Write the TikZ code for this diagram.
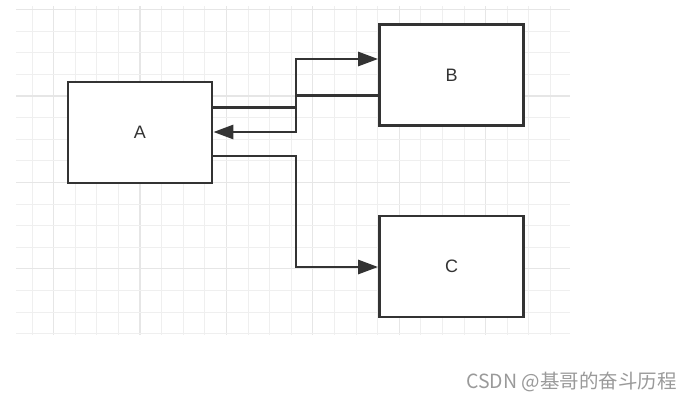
\documentclass[tikz,border=0pt]{standalone}
\usepackage{fontspec}
\setmainfont{Liberation Sans}
\newfontfamily\cjkfont{Noto Sans CJK SC}
\usetikzlibrary{arrows.meta,calc}
\definecolor{gridminor}{HTML}{EFEFEF}
\definecolor{gridmajor}{HTML}{E6E6E6}
\definecolor{ink}{HTML}{333333}
\definecolor{wm}{HTML}{9A9A9A}
\tikzset{
  minorline/.style={draw=gridminor,line width=0.9pt},
  majorline/.style={draw=gridmajor,line width=1.1pt},
  box/.style={draw=ink,line width=2.8pt,fill=white,rectangle,inner sep=0pt,
    minimum width=144pt,minimum height=101pt,text=ink,font=\fontsize{18}{18}\selectfont},
  conn/.style={draw=ink,line width=2.8pt,line join=miter},
  arr/.style={conn,-{Triangle[length=20pt 0,width=14pt 0]}}
}
\begin{document}
\begin{tikzpicture}[x=1pt,y=-1pt]
\useasboundingbox[fill=white] (0,0) rectangle (693,400);
% grid
\foreach \k in {-5,...,19}{
  \pgfmathtruncatemacro{\m}{mod(\k+20,4)}
  \ifnum\m=0
    \draw[majorline] ({140+21.6*\k},6) -- ({140+21.6*\k},335);
  \else
    \draw[minorline] ({140+21.6*\k},6) -- ({140+21.6*\k},335);
  \fi
}
\foreach \j in {0,...,15}{
  \pgfmathtruncatemacro{\m}{mod(\j,4)}
  \ifnum\m=0
    \draw[majorline] (16,{9.6+21.6*\j}) -- (570,{9.6+21.6*\j});
  \else
    \draw[minorline] (16,{9.6+21.6*\j}) -- (570,{9.6+21.6*\j});
  \fi
}
% boxes
\node[box] (A) at (140,132.5) {A};
\node[box] (B) at (451.5,75) {B};
\node[box] (C) at (451.5,266.5) {C};
% connectors
\coordinate (j) at (296,0);
\draw[arr] (A.east |- 0,107.5) -- (j |- 0,107.5) -- (j |- 0,59) -- (B.west |- 0,59);
\draw[arr] (B.west |- 0,95.5) -- (j |- 0,95.5) -- (j |- 0,132) -- (A.east |- 0,132);
\draw[arr] (A.east |- 0,156) -- (j |- 0,156) -- (j |- 0,267) -- (C.west |- 0,267);
% watermark
\node[anchor=east,text=wm,inner sep=0pt,font=\cjkfont\fontsize{19.5}{19.5}\selectfont] (wmk) at (677,382) {CSDN @基哥的奋斗历程};
\end{tikzpicture}
\end{document}
